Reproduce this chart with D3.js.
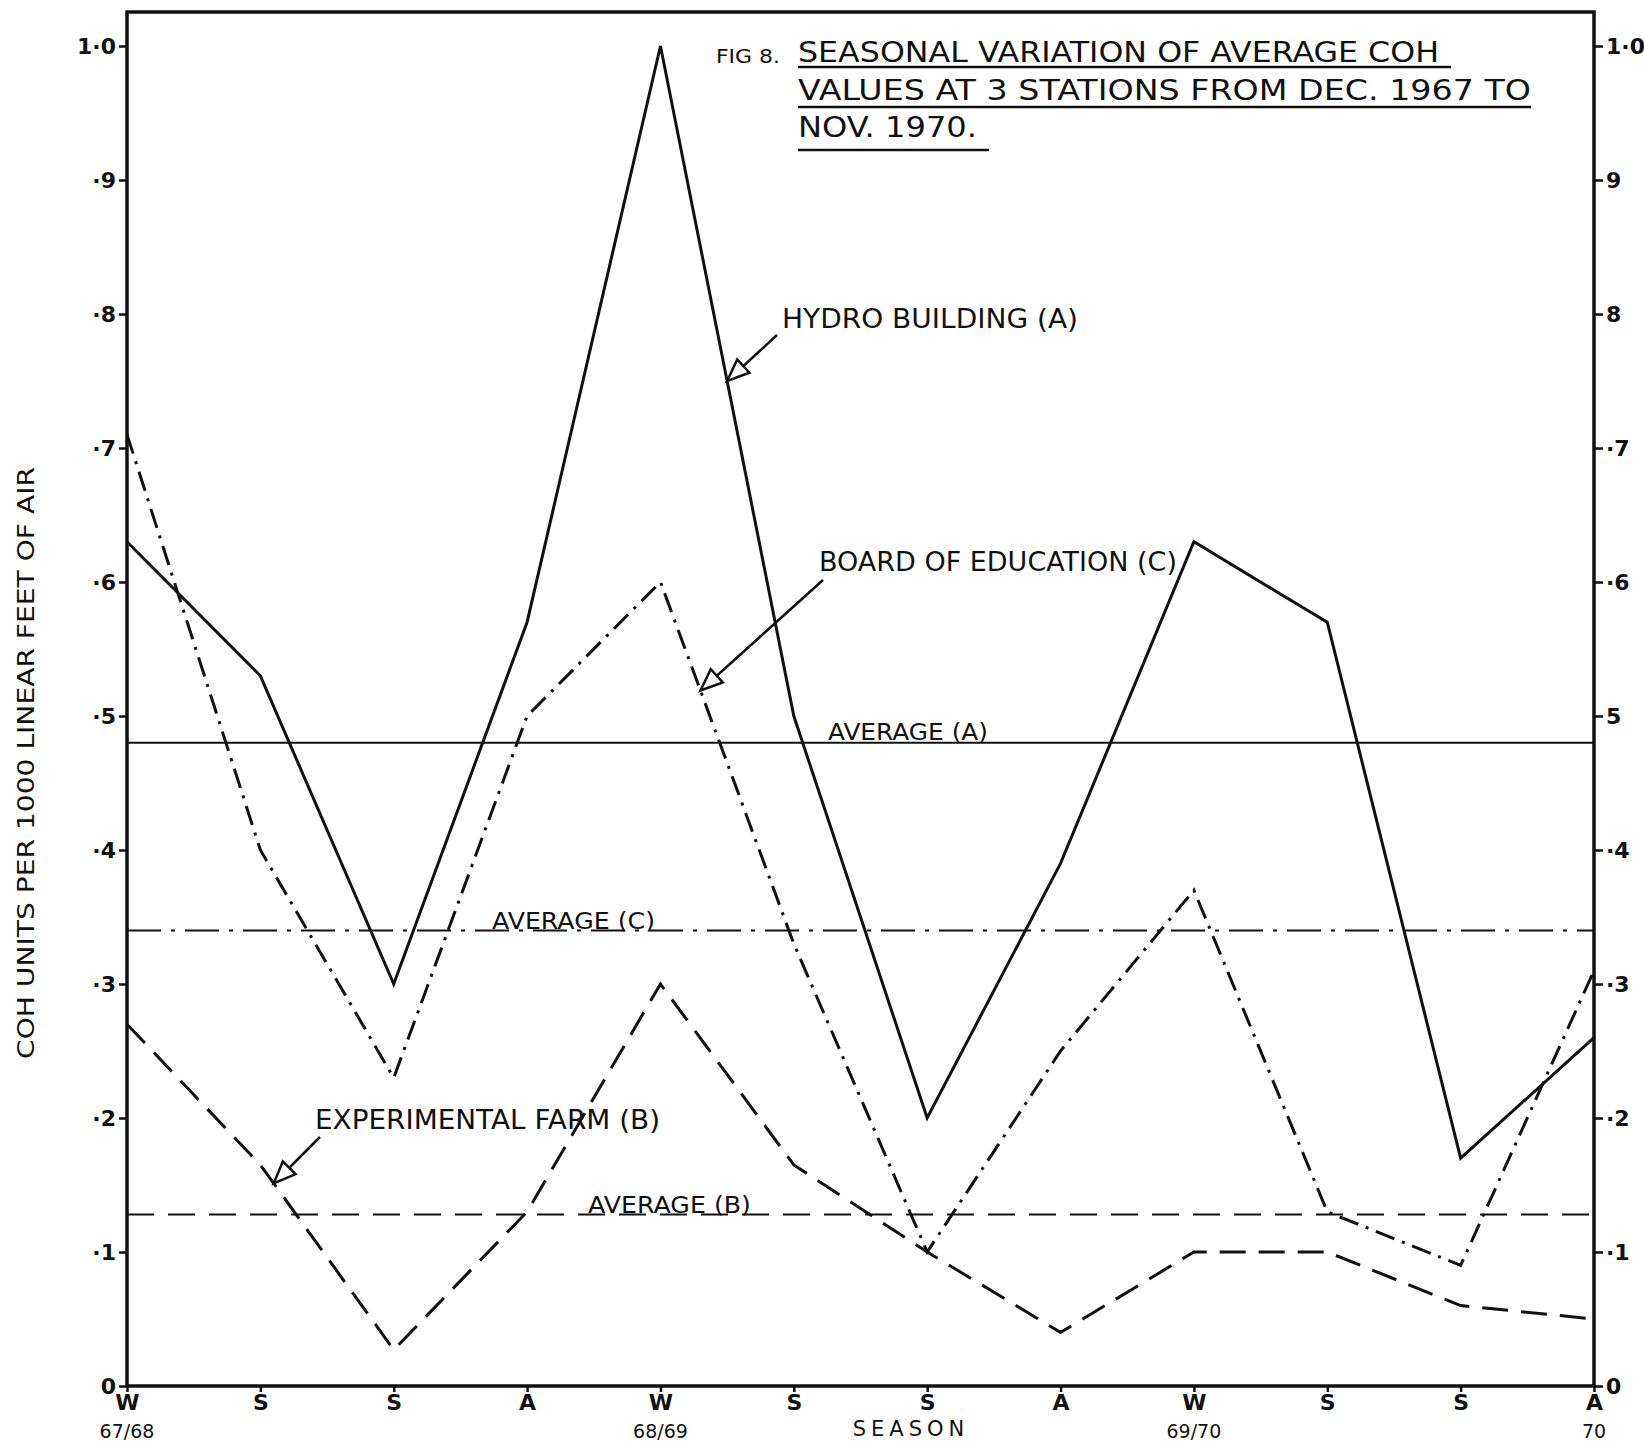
<!DOCTYPE html>
<html>
<head>
<meta charset="utf-8">
<script src="https://cdn.jsdelivr.net/npm/d3@7/dist/d3.min.js"></script>
<style>
body { margin: 0; background: #fff; }
text { font-family: "DejaVu Sans", sans-serif; fill: #111; }
</style>
</head>
<body>
<svg id="chart" width="1644" height="1444"></svg>
<script>
// seasons along the x axis (W = winter, S = spring, S = summer, A = autumn)
var seasons = ['W', 'S', 'S', 'A', 'W', 'S', 'S', 'A', 'W', 'S', 'S', 'A']
var yearIndex = [0, 4, 8, 11]
var yearLabels = ['67/68', '68/69', '69/70', '70']

// COH units per 1000 linear feet of air
var hydroA = [0.63, 0.53, 0.30, 0.57, 1.00, 0.50, 0.20, 0.39, 0.63, 0.57, 0.17, 0.26]
var farmB = [0.27, 0.165, 0.027, 0.13, 0.30, 0.165, 0.10, 0.04, 0.10, 0.10, 0.06, 0.05]
var boardC = [0.71, 0.40, 0.23, 0.50, 0.60, 0.33, 0.10, 0.25, 0.37, 0.13, 0.09, 0.31]
var avgA = 0.48, avgB = 0.128, avgC = 0.34

var yTicks = [0, 0.1, 0.2, 0.3, 0.4, 0.5, 0.6, 0.7, 0.8, 0.9, 1.0]
var leftTickLabels = ['0', '·1', '·2', '·3', '·4', '·5', '·6', '·7', '·8', '·9', '1·0']
var rightTickLabels = ['0', '·1', '·2', '·3', '·4', '5', '·6', '·7', '8', '9', '1·0']

var svg = d3.select('#chart')
var plotLeft = 127, plotRight = 1594, plotTop = 12, plotBottom = 1386

var x = d3.scalePoint().domain(d3.range(seasons.length)).range([plotLeft, plotRight])
var y = d3.scaleLinear().domain([0, 1]).range([plotBottom, 46])

// left axis
var gLeft = svg.append('g')
    .attr('transform', `translate(${plotLeft},0)`)
    .call(d3.axisLeft(y).tickValues(yTicks).tickSize(8).tickPadding(3)
        .tickFormat((d, i) => leftTickLabels[i]))
gLeft.select('.domain').remove()

// right axis
var gRight = svg.append('g')
    .attr('transform', `translate(${plotRight},0)`)
    .call(d3.axisRight(y).tickValues(yTicks).tickSize(9).tickPadding(3)
        .tickFormat((d, i) => rightTickLabels[i]))
gRight.select('.domain').remove()

// bottom axis
var gBottom = svg.append('g')
    .attr('transform', `translate(0,${plotBottom})`)
    .call(d3.axisBottom(x).tickSize(6).tickPadding(2)
        .tickFormat(i => seasons[i]))
gBottom.select('.domain').remove()

svg.selectAll('.tick line').attr('stroke', '#111').attr('stroke-width', 2.5)
svg.selectAll('.tick text')
    .style('font-family', '"DejaVu Sans", sans-serif')
    .style('font-size', '22px')
    .style('font-weight', 'bold')
    .attr('fill', '#111')

// frame
svg.append('rect')
    .attr('x', plotLeft).attr('y', plotTop)
    .attr('width', plotRight - plotLeft).attr('height', plotBottom - plotTop)
    .attr('fill', 'none').attr('stroke', '#111').attr('stroke-width', 3.5)

// year labels under the seasons
svg.selectAll('.yearLabel')
    .data(yearIndex)
    .enter().append('text')
    .attr('class', 'yearLabel')
    .attr('x', d => x(d))
    .attr('y', 1438)
    .attr('text-anchor', 'middle')
    .attr('font-size', '19px')
    .text((d, i) => yearLabels[i])

svg.append('text')
    .attr('x', 911).attr('y', 1436)
    .attr('text-anchor', 'middle')
    .attr('font-size', '21px')
    .attr('letter-spacing', '5px')
    .text('SEASON')

// y axis title
svg.append('text')
    .attr('transform', 'translate(34,763) rotate(-90)')
    .attr('text-anchor', 'middle')
    .attr('font-size', '23px')
    .attr('textLength', 592)
    .attr('lengthAdjust', 'spacingAndGlyphs')
    .text('COH   UNITS  PER  1000  LINEAR  FEET  OF  AIR')

// average lines
var avgs = [
    { v: avgA, dash: null },
    { v: avgC, dash: '34,10,4,10' },
    { v: avgB, dash: '27,14' }
]
avgs.forEach(a => {
    svg.append('line')
        .attr('x1', plotLeft).attr('x2', plotRight)
        .attr('y1', y(a.v)).attr('y2', y(a.v))
        .attr('stroke', '#111').attr('stroke-width', 2)
        .attr('stroke-dasharray', a.dash)
})

// series lines
var line = d3.line().x((d, i) => x(i)).y(d => y(d))
var series = [
    { data: hydroA, dash: null },
    { data: boardC, dash: '20,8,3,8' },
    { data: farmB, dash: '26,13' }
]
series.forEach(s => {
    svg.append('path')
        .attr('d', line(s.data))
        .attr('fill', 'none')
        .attr('stroke', '#111')
        .attr('stroke-width', 3)
        .attr('stroke-linejoin', 'miter')
        .attr('stroke-dasharray', s.dash)
})

// point on a series between index i and i+1 at fraction t
function along (data, i, t) {
    return [x(i) + t * (x(i + 1) - x(i)), y(data[i] + t * (data[i + 1] - data[i]))]
}

function arrow (from, tip) {
    svg.append('line')
        .attr('x1', from[0]).attr('y1', from[1])
        .attr('x2', tip[0]).attr('y2', tip[1])
        .attr('stroke', '#111').attr('stroke-width', 2.5)
    var dx = tip[0] - from[0], dy = tip[1] - from[1]
    var len = Math.sqrt(dx * dx + dy * dy)
    var ux = dx / len, uy = dy / len
    var L = 22, W = 9
    var bx = tip[0] - L * ux, by = tip[1] - L * uy
    var pts = [tip, [bx - W * uy, by + W * ux], [bx + W * uy, by - W * ux]]
    svg.append('polygon')
        .attr('points', pts.map(p => p.join(',')).join(' '))
        .attr('fill', '#fff').attr('stroke', '#111').attr('stroke-width', 2.5)
}

// labels and arrows
svg.append('text').attr('x', 782).attr('y', 328).attr('font-size', '26px')
    .attr('textLength', 296).attr('lengthAdjust', 'spacingAndGlyphs')
    .text('HYDRO  BUILDING  (A)')
arrow([777, 335], along(hydroA, 4, 0.5))

svg.append('text').attr('x', 819).attr('y', 571).attr('font-size', '26px')
    .attr('textLength', 358).attr('lengthAdjust', 'spacingAndGlyphs')
    .text('BOARD  OF  EDUCATION (C)')
arrow([823, 580], along(boardC, 4, 0.3))

svg.append('text').attr('x', 315).attr('y', 1129).attr('font-size', '26px')
    .attr('textLength', 345).attr('lengthAdjust', 'spacingAndGlyphs')
    .text('EXPERIMENTAL  FARM  (B)')
arrow([320, 1137], along(farmB, 1, 0.1))

var avgLabels = [
    { t: 'AVERAGE  (A)', x: 828, y: 740, w: 160 },
    { t: 'AVERAGE  (C)', x: 492, y: 929, w: 163 },
    { t: 'AVERAGE  (B)', x: 588, y: 1213, w: 163 }
]
avgLabels.forEach(a => {
    svg.append('text').attr('x', a.x).attr('y', a.y).attr('font-size', '23px')
        .attr('textLength', a.w).attr('lengthAdjust', 'spacingAndGlyphs')
        .text(a.t)
})

// title
svg.append('text').attr('x', 716).attr('y', 63).attr('font-size', '19px')
    .attr('textLength', 64).attr('lengthAdjust', 'spacingAndGlyphs')
    .text('FIG 8.')
var titleLines = [
    { t: 'SEASONAL  VARIATION  OF  AVERAGE  COH', y: 62, w: 641, u: 67, uw: 653 },
    { t: 'VALUES  AT  3  STATIONS  FROM  DEC. 1967  TO', y: 100, w: 733, u: 107, uw: 733 },
    { t: 'NOV.  1970.', y: 137, w: 179, u: 150, uw: 191 }
]
titleLines.forEach(l => {
    svg.append('text').attr('x', 798).attr('y', l.y).attr('font-size', '28px')
        .attr('textLength', l.w).attr('lengthAdjust', 'spacingAndGlyphs')
        .text(l.t)
    svg.append('line')
        .attr('x1', 798).attr('x2', 798 + l.uw)
        .attr('y1', l.u).attr('y2', l.u)
        .attr('stroke', '#111').attr('stroke-width', 2.5)
})
</script>
</body>
</html>
